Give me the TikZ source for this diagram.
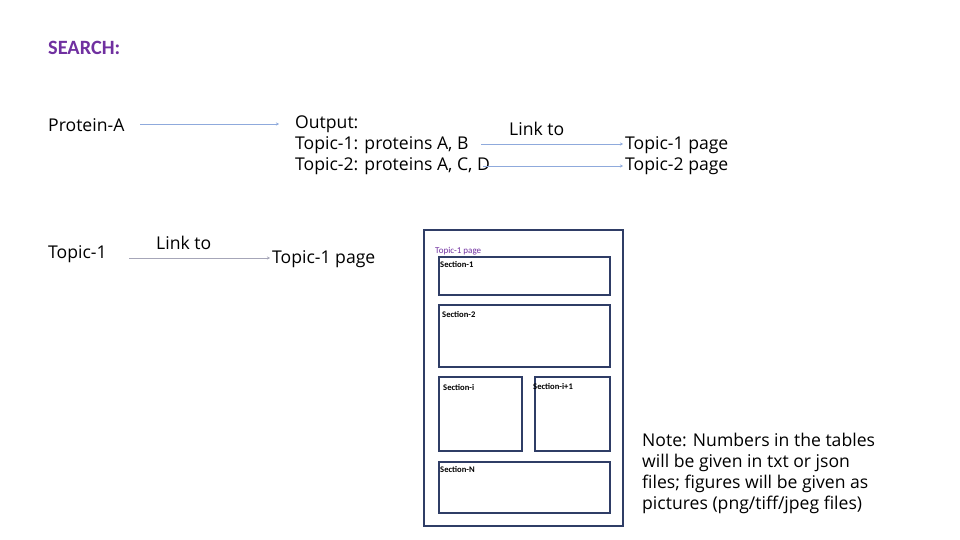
\documentclass[tikz,border=0pt]{standalone}
\usepackage{fontspec}
\setmainfont{Open Sans}
\newfontfamily\calfont{Carlito}
\usetikzlibrary{arrows.meta}
\definecolor{purp}{HTML}{7030A0}
\definecolor{navy}{HTML}{2F3D66}
\definecolor{lnk}{HTML}{8FAADC}
\definecolor{lnkgray}{HTML}{A6A6B8}
\tikzset{
  txt/.style={anchor=base west, inner sep=0pt, font=\fontsize{17.6}{20}\selectfont, text=black},
  arr/.style={draw=lnk, line width=0.6pt, -{Stealth[length=3pt,width=3pt]}},
  arrg/.style={draw=lnkgray, line width=0.6pt, -{Stealth[length=3pt,width=3pt]}},
  secbox/.style={draw=navy, line width=1.5pt, anchor=north west, inner sep=0pt},
  seclabel/.style={anchor=base west, inner sep=0pt, font=\calfont\bfseries\fontsize{8.6}{9}\selectfont},
}
\begin{document}
\begin{tikzpicture}[x=1pt,y=-1pt]
\useasboundingbox (0,0) rectangle (960,540);
\node[txt, font=\calfont\bfseries\fontsize{20.3}{24}\selectfont, text=purp] (search) at (48,55) {SEARCH:};
% row 1
\node[txt] (pa) at (48,132) {Protein-A};
\node[txt] (out0) at (295,129) {Output:};
\node[txt] (out1) at (295,150) {Topic-1: proteins A, B};
\node[txt] (out2) at (295,171) {Topic-2: proteins A, C, D};
\node[txt] (link1) at (509,136) {Link to};
\node[txt] (t1p) at (625,150) {Topic-1 page};
\node[txt] (t2p) at (625,171) {Topic-2 page};
\coordinate (a1s) at (140,124);
\coordinate (a1e) at (279,124);
\draw[arr] (a1s) -- (a1e);
\coordinate (a2s) at (481,144);
\coordinate (a2e) at (623,144);
\draw[arr] (a2s) -- (a2e);
\coordinate (a3s) at (483,166);
\coordinate (a3e) at (623,166);
\draw[arr] (a3s) -- (a3e);
% row 2
\node[txt] (topic1) at (48,258) {Topic-1};
\node[txt] (link2) at (156,249) {Link to};
\node[txt] (t1pb) at (272,263) {Topic-1 page};
\coordinate (a4s) at (129,258);
\coordinate (a4e) at (270,258);
\draw[arrg] (a4s) -- (a4e);
% page mockup
\node[secbox, minimum width=199pt, minimum height=296pt] (page) at (423,229) {};
\node[anchor=base west, inner sep=0pt, font=\calfont\fontsize{9}{10}\selectfont, text=purp] (pagetitle) at (435,253) {Topic-1 page};
\node[secbox, minimum width=171pt, minimum height=38pt] (s1) at (438,256) {};
\node[seclabel] (s1l) at (440,267) {Section-1};
\node[secbox, minimum width=171pt, minimum height=62pt] (s2) at (438,304) {};
\node[seclabel] (s2l) at (442,317) {Section-2};
\node[secbox, minimum width=83pt, minimum height=74pt] (si) at (438,376) {};
\node[seclabel] (sil) at (443,390) {Section-i};
\node[secbox, minimum width=75pt, minimum height=74pt] (si1) at (534,376) {};
\node[seclabel] (si1l) at (533,389) {Section-i+1};
\node[secbox, minimum width=171pt, minimum height=51pt] (sn) at (438,461) {};
\node[seclabel] (snl) at (440,472) {Section-N};
% note
\node[txt] (n1) at (642,446) {Note: Numbers in the tables};
\node[txt] (n2) at (642,467) {will be given in txt or json};
\node[txt] (n3) at (642,488) {files; figures will be given as};
\node[txt] (n4) at (642,509) {pictures (png/tiff/jpeg files)};
\end{tikzpicture}
\end{document}
